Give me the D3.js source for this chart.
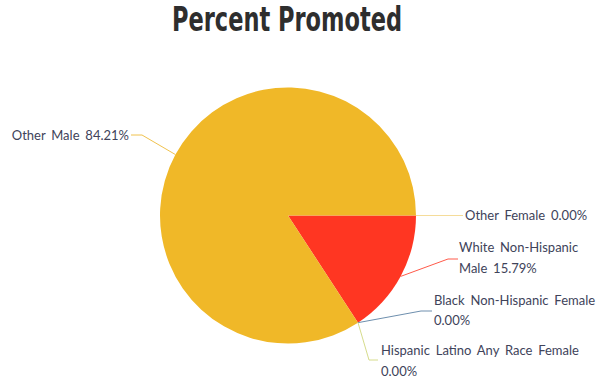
<!DOCTYPE html>
<html>
<head>
<meta charset="utf-8">
<script src="https://cdn.jsdelivr.net/npm/d3@7"></script>
<style>
  html, body { margin: 0; padding: 0; background: #fff; }
  svg { display: block; }
</style>
</head>
<body>
<svg id="chart" width="610" height="381"></svg>
<script>
// Chart data
const titleText = "Percent Promoted";
const categories = [
  "Other Female",
  "White Non-Hispanic Male",
  "Black Non-Hispanic Female",
  "Hispanic Latino Any Race Female",
  "Other Male"
];
const percentValues = [0.00, 15.79, 0.00, 0.00, 84.21];
// How each label wraps onto lines
const labelLines = [
  ["Other Female 0.00%"],
  ["White Non-Hispanic", "Male 15.79%"],
  ["Black Non-Hispanic Female", "0.00%"],
  ["Hispanic Latino Any Race Female", "0.00%"],
  ["Other Male 84.21%"]
];

// Styling
const sliceColors = ["#F3D27A", "#FF3622", "#6E8FAE", "#D6DC8C", "#F0B828"];
const lineColors  = ["#F5DC9A", "#FF5A4A", "#6E8FAE", "#D6DC8C", "#F0C24E"];

// Label layout: elbow point and text anchor for each connector
const labelLayout = [
  { elbow: [463, 215.5], end: [463, 215.5], tx: 465, ty: 215.5, anchor: "start" },
  { elbow: [448, 259],   end: [458, 259],   tx: 459, ty: 258,   anchor: "start" },
  { elbow: [421, 311],   end: [432, 311],   tx: 434, ty: 310.5, anchor: "start" },
  { elbow: [369, 360],   end: [378, 360],   tx: 381, ty: 361,   anchor: "start" },
  { elbow: [142, 135],   end: [131, 135],   tx: 129, ty: 135,   anchor: "end" }
];

const svg = d3.select("#chart");
const cx = 288, cy = 215.5, radius = 128;

// Title
svg.append("text")
  .attr("x", 287)
  .attr("y", 31)
  .attr("text-anchor", "middle")
  .attr("font-family", "'Liberation Sans Narrow', 'DejaVu Sans Condensed', sans-serif")
  .attr("font-weight", "bold")
  .attr("font-size", 33)
  .attr("fill", "#2e2e2e")
  .attr("textLength", 230)
  .attr("lengthAdjust", "spacingAndGlyphs")
  .text(titleText);

// Pie layout: start at 3 o'clock, clockwise
const pie = d3.pie()
  .sort(null)
  .value(d => d)
  .startAngle(Math.PI / 2)
  .endAngle(Math.PI / 2 + 2 * Math.PI);

const arcs = pie(percentValues);
const arcGen = d3.arc().innerRadius(0).outerRadius(radius);

const g = svg.append("g").attr("transform", `translate(${cx},${cy})`);
g.selectAll("path.slice")
  .data(arcs)
  .join("path")
  .attr("class", "slice")
  .attr("d", arcGen)
  .attr("fill", (d, i) => sliceColors[i])
  .attr("stroke", "none");

// Connectors and labels
const edgePoint = d => {
  const a = (d.startAngle + d.endAngle) / 2;
  return [cx + radius * Math.sin(a), cy - radius * Math.cos(a)];
};

const labels = svg.append("g");
arcs.forEach((d, i) => {
  const p0 = edgePoint(d);
  const L = labelLayout[i];
  labels.append("polyline")
    .attr("points", [p0, L.elbow, L.end].map(p => p.join(",")).join(" "))
    .attr("fill", "none")
    .attr("stroke", lineColors[i])
    .attr("stroke-width", 1);

  const lines = labelLines[i];
  const lh = 20.5;
  const t = labels.append("text")
    .attr("font-family", "Lato, 'Open Sans', sans-serif")
    .attr("font-size", 13)
    .attr("word-spacing", 2.5)
    .attr("fill", "#40435a")
    .attr("text-anchor", L.anchor);
  const y0 = L.ty - (lines.length - 1) * lh / 2;
  lines.forEach((ln, k) => {
    t.append("tspan")
      .attr("x", L.tx)
      .attr("y", y0 + k * lh)
      .attr("dy", "0.35em")
      .text(ln);
  });
});
</script>
</body>
</html>
